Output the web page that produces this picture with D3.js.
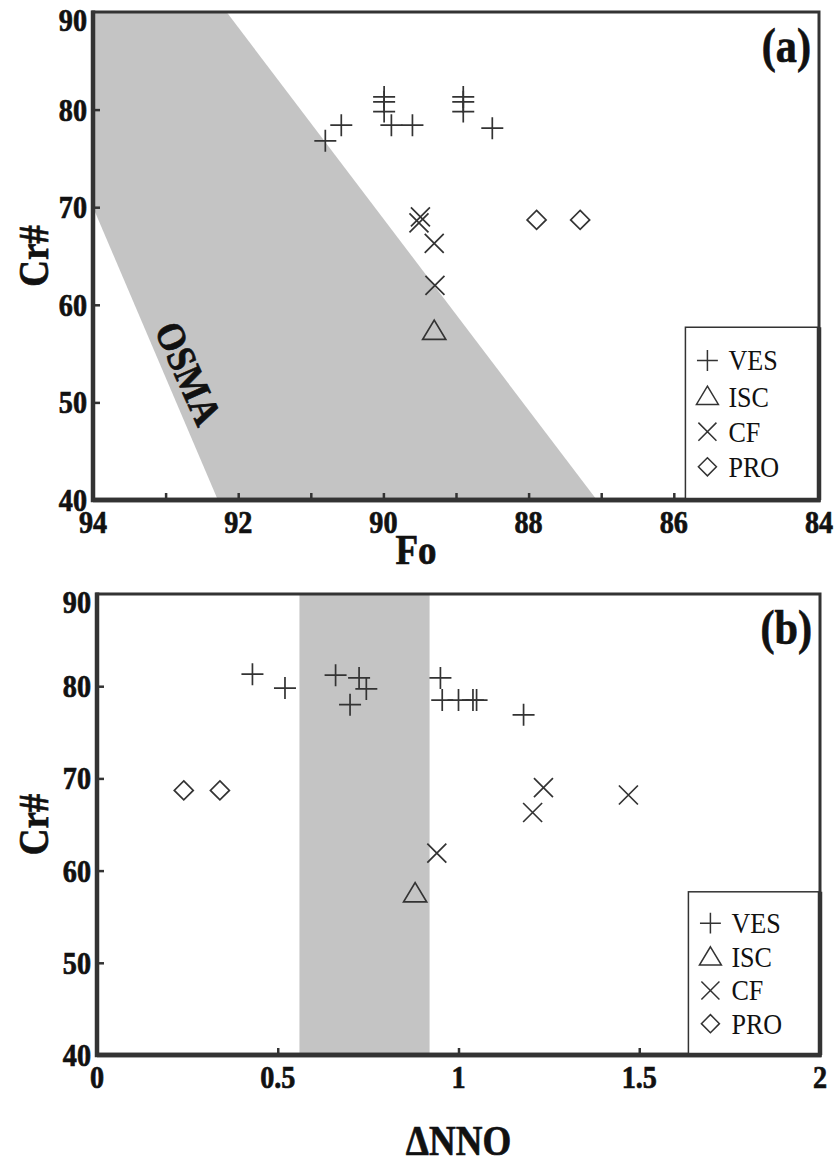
<!DOCTYPE html>
<html>
<head>
<meta charset="utf-8">
<script src="https://cdn.jsdelivr.net/npm/d3@7"></script>
<style>
  body { margin: 0; background: #fff; }
  svg { display: block; font-family: "Liberation Serif", "Times New Roman", serif; }
</style>
</head>
<body>
<div id="chart"></div>
<script>
// ticks
const foTicks = [94, 92, 90, 88, 86, 84];
const foMinor = [93, 91, 89, 87, 85];
const crTicks = [40, 50, 60, 70, 80, 90];
const nnoTicks = [0, 0.5, 1, 1.5, 2];

// panel (a): Fo vs Cr#
const vesFo = [90.8, 90.58, 89.99, 89.99, 89.99, 89.89, 89.6, 88.9, 88.9, 88.9, 88.5];
const vesCrA = [76.8, 78.4, 81.3, 80.8, 79.8, 78.4, 78.4, 81.3, 80.8, 79.8, 78.1];
const iscFo = [89.3];
const iscCrA = [57.3];
const cfFo = [89.49, 89.51, 89.3, 89.29];
const cfCrA = [69.0, 68.4, 66.3, 62.0];
const proFo = [87.89, 87.29];
const proCrA = [68.7, 68.7];

// OSMA field outline
const osmaFo = [94, 92.16, 87.06, 92.28, 94];
const osmaCr = [90, 90, 40, 40, 70];

// panel (b): dNNO vs Cr#
const vesNNO = [0.43, 0.52, 0.66, 0.725, 0.745, 0.70, 0.95, 0.955, 1.0, 1.04, 1.05, 1.18];
const vesCrB = [81.3, 79.8, 81.2, 80.9, 79.7, 78.0, 80.9, 78.5, 78.5, 78.5, 78.5, 76.9];
const iscNNO = [0.88];
const iscCrB = [57.5];
const cfNNO = [0.94, 1.235, 1.205, 1.47];
const cfCrB = [61.9, 69.0, 66.3, 68.2];
const proNNO = [0.24, 0.34];
const proCrB = [68.7, 68.7];

const nnoBand = [0.56, 0.92];

const legendLabels = ["VES", "ISC", "CF", "PRO"];
const legendCr = [54.3, 50.6, 47.0, 43.4];

const ink = "#333";

const shapes = {
  plus: s => `M${-s},0H${s}M0,${-s}V${s}`,
  times: s => `M${-s},${-s}L${s},${s}M${-s},${s}L${s},${-s}`,
  triangle: s => `M0,${-s}L${s * 1.05},${s * 0.75}L${-s * 1.05},${s * 0.75}Z`,
  diamond: s => `M0,${-s}L${s},0L0,${s}L${-s},0Z`
};
const symbolOf = ["plus", "triangle", "times", "diamond"];
const symbolSize = { plus: 11, triangle: 11, times: 9.5, diamond: 9.5 };

const svg = d3.select("#chart").append("svg")
  .attr("width", 838)
  .attr("height", 1164);

// bold, slightly narrow text like the scanned figure
function label(g, x, y, txt, size, anchor, sx = 0.88, rot = 0, bold = true) {
  const t = g.append("text")
    .attr("transform", `translate(${x},${y}) rotate(${rot}) scale(${sx},1)`)
    .attr("text-anchor", anchor)
    .attr("font-size", size)
    .attr("font-weight", bold ? "bold" : "normal")
    .attr("fill", "#111")
    .text(txt);
  if (bold) t.attr("stroke", "#111").attr("stroke-width", 0.7);
  return t;
}

function drawPanel(p) {
  const x = d3.scaleLinear().domain(p.xDomain).range([p.left, p.right]);
  const y = d3.scaleLinear().domain([40, 90]).range([p.bottom, p.top]);
  const g = svg.append("g");

  // shaded field
  const clipId = "clip" + p.tag;
  g.append("clipPath").attr("id", clipId).append("rect")
    .attr("x", p.left).attr("y", p.top)
    .attr("width", p.right - p.left).attr("height", p.bottom - p.top);
  g.append("path")
    .attr("clip-path", `url(#${clipId})`)
    .attr("d", p.field(x, y))
    .attr("fill", "#c4c4c4");

  // ticks (inward)
  const xAxis = d3.axisBottom(x).tickValues(p.xTicks).tickSize(-7).tickFormat("");
  g.append("g").attr("transform", `translate(0,${p.bottom})`).call(xAxis)
    .call(s => s.select(".domain").remove())
    .call(s => s.selectAll("line").attr("stroke", ink).attr("stroke-width", 2.5));
  const yAxis = d3.axisLeft(y).tickValues([50, 60, 70, 80]).tickSize(-7).tickFormat("");
  g.append("g").attr("transform", `translate(${p.left},0)`).call(yAxis)
    .call(s => s.select(".domain").remove())
    .call(s => s.selectAll("line").attr("stroke", ink).attr("stroke-width", 2.5));

  // tick labels
  p.xLabels.forEach(d => label(g, x(d), p.bottom + 33, d, 32, "middle"));
  crTicks.forEach(d => {
    const yy = Math.max(y(d) + 11, p.top + 19);
    label(g, p.left - 6, yy, d, 32, "end");
  });

  // frame
  g.append("rect")
    .attr("x", p.left).attr("y", p.top)
    .attr("width", p.right - p.left).attr("height", p.bottom - p.top)
    .attr("fill", "none").attr("stroke", ink).attr("stroke-width", 3);
  g.append("path")
    .attr("d", `M${p.left},${p.top - 1.5}V${p.bottom}H${p.right + 1.5}`)
    .attr("fill", "none").attr("stroke", ink).attr("stroke-width", 4.5);

  // points
  p.series.forEach((s, i) => {
    const sym = symbolOf[i];
    g.selectAll(null).data(s.xs).join("path")
      .attr("transform", (d, j) => `translate(${x(d)},${y(s.ys[j])})`)
      .attr("d", shapes[sym](symbolSize[sym]))
      .attr("fill", "none").attr("stroke", ink).attr("stroke-width", 1.7);
  });

  // legend
  const lx = x(p.legendX);
  const ly = y(57.7);
  g.append("rect")
    .attr("x", lx).attr("y", ly)
    .attr("width", p.right - lx).attr("height", p.bottom - ly)
    .attr("fill", "#fff").attr("stroke", ink).attr("stroke-width", 1.5);
  g.append("path")
    .attr("d", `M${p.left},${p.bottom}H${p.right + 1.5}M${p.right},${ly}V${p.bottom}`)
    .attr("stroke", ink).attr("stroke-width", 4.5);
  legendLabels.forEach((lab, i) => {
    const sym = symbolOf[i];
    const cy = y(legendCr[i]);
    g.append("path")
      .attr("transform", `translate(${lx + 22},${cy})`)
      .attr("d", shapes[sym](symbolSize[sym] * 0.95))
      .attr("fill", "none").attr("stroke", ink).attr("stroke-width", 1.5);
    label(g, lx + 43, cy + 10, lab, 29, "start", 0.9, 0, false);
  });

  // panel tag
  label(g, p.right - 8, p.top + 50, `(${p.tag})`, 48, "end");

  // axis titles
  label(g, p.xTitleX(x), p.bottom + p.xTitleDy, p.xTitle, 42, "middle");
  label(g, 48, (p.top + p.bottom) / 2, "Cr#", 42, "middle", 0.88, -90);

  return { x, y, g };
}

const a = drawPanel({
  tag: "a", left: 93, right: 819, top: 12, bottom: 500,
  xDomain: [94, 84],
  xTicks: foTicks.concat(foMinor),
  xLabels: foTicks,
  xTitle: "Fo", xTitleDy: 64, xTitleX: x => x(89.55),
  legendX: 85.84,
  field: (x, y) => d3.line().x(d => x(d[0])).y(d => y(d[1]))(d3.zip(osmaFo, osmaCr)) + "Z",
  series: [
    { xs: vesFo, ys: vesCrA },
    { xs: iscFo, ys: iscCrA },
    { xs: cfFo, ys: cfCrA },
    { xs: proFo, ys: proCrA }
  ]
});

// OSMA label along the field edge
label(a.g, a.x(92.68), a.y(53.0), "OSMA", 40, "middle", 0.9, 66)
  .attr("dy", "0.35em");

drawPanel({
  tag: "b", left: 97, right: 820, top: 594, bottom: 1055,
  xDomain: [0, 2],
  xTicks: [0.5, 1, 1.5],
  xLabels: nnoTicks,
  xTitle: "\u0394NNO", xTitleDy: 100, xTitleX: x => x(1),
  legendX: 1.636,
  field: (x, y) => `M${x(nnoBand[0])},${y(90)}H${x(nnoBand[1])}V${y(40)}H${x(nnoBand[0])}Z`,
  series: [
    { xs: vesNNO, ys: vesCrB },
    { xs: iscNNO, ys: iscCrB },
    { xs: cfNNO, ys: cfCrB },
    { xs: proNNO, ys: proCrB }
  ]
});
</script>
</body>
</html>
